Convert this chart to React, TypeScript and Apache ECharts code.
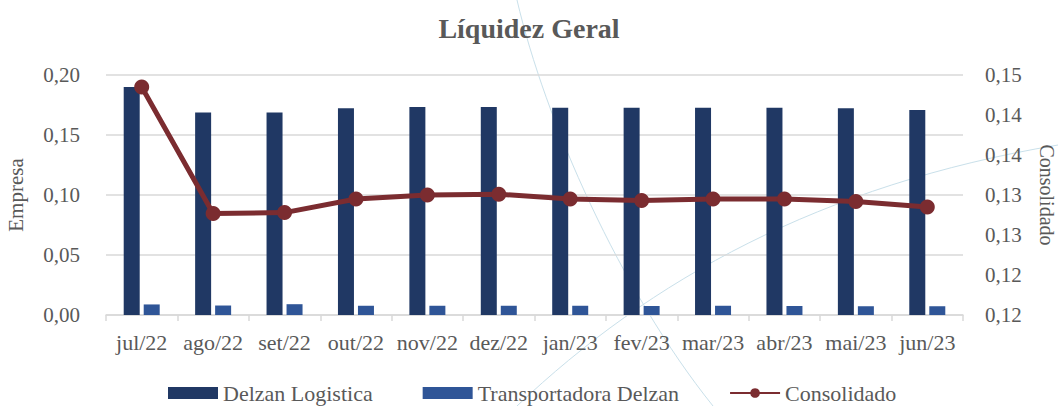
import React, { useEffect, useRef } from "react";
import * as echarts from "echarts";

const categories = ["jul/22", "ago/22", "set/22", "out/22", "nov/22", "dez/22", "jan/23", "fev/23", "mar/23", "abr/23", "mai/23", "jun/23"];
const delzanLogistica = [0.190, 0.1688, 0.1688, 0.1722, 0.1733, 0.1733, 0.1728, 0.1728, 0.1728, 0.1728, 0.1722, 0.1708];
const transportadora = [0.0088, 0.0079, 0.0090, 0.0077, 0.0077, 0.0077, 0.0077, 0.0075, 0.0077, 0.0075, 0.0073, 0.0073];
const consolidado = [0.1485, 0.1327, 0.1328, 0.1345, 0.1350, 0.1351, 0.1345, 0.1343, 0.1345, 0.1345, 0.1342, 0.1335];
const rightTickLabels = ["0,12", "0,12", "0,13", "0,13", "0,14", "0,14", "0,15"];

const FONT = "'Liberation Serif', 'Times New Roman', serif";
const TEXT = "#595959";

export default function App() {
  const ref = useRef<HTMLDivElement>(null);
  useEffect(() => {
    document.body.style.margin = "0";
    const chart = echarts.init(ref.current!, null, { renderer: "svg" });
    chart.setOption({
      animation: false,
      backgroundColor: "#ffffff",
      textStyle: { fontFamily: FONT, color: TEXT },
      title: {
        text: "Líquidez Geral",
        left: "center",
        top: 9,
        textStyle: { fontFamily: FONT, fontSize: 28, fontWeight: "bold", color: TEXT },
      },
      graphic: [
        {
          type: "bezierCurve",
          z: -10,
          silent: true,
          shape: { x1: 517, y1: 0, cpx1: 545, cpy1: 120, cpx2: 620, cpy2: 290, x2: 713, y2: 406 },
          style: { stroke: "#C9E0EA", lineWidth: 1, fill: "none" },
        },
        {
          type: "bezierCurve",
          z: -10,
          silent: true,
          shape: { x1: 517, y1: 406, cpx1: 650, cpy1: 280, cpx2: 820, cpy2: 185, x2: 1058, y2: 145 },
          style: { stroke: "#C9E0EA", lineWidth: 1, fill: "none" },
        },
      ],
      legend: {
        left: 168,
        top: 382,
        padding: 0,
        itemGap: 50,
        itemWidth: 50,
        itemHeight: 12,
        textStyle: { fontFamily: FONT, fontSize: 22, color: TEXT },
        data: [
          { name: "Delzan Logistica", icon: "rect" },
          { name: "Transportadora Delzan", icon: "rect" },
          { name: "Consolidado" },
        ],
      },
      grid: { left: 106, right: 95, top: 75, bottom: 91, containLabel: false, outerBoundsMode: "none" },
      xAxis: {
        type: "category",
        data: categories,
        axisLine: { lineStyle: { color: "#D9D9D9", width: 1.5 } },
        axisTick: { show: true, length: 6, lineStyle: { color: "#D9D9D9", width: 1.5 } },
        axisLabel: { fontFamily: FONT, fontSize: 22, color: TEXT, margin: 16, interval: 0 },
      },
      yAxis: [
        {
          type: "value",
          min: 0,
          max: 0.2,
          interval: 0.05,
          name: "Empresa",
          nameLocation: "middle",
          nameGap: 80,
          nameTextStyle: { fontFamily: FONT, fontSize: 21, color: TEXT },
          axisLine: { show: false },
          axisTick: { show: false },
          splitLine: { lineStyle: { color: "#D9D9D9", width: 1.5 } },
          axisLabel: {
            fontFamily: FONT,
            fontSize: 21,
            color: TEXT,
            margin: 26,
            formatter: (v: number) => v.toFixed(2).replace(".", ","),
          },
        },
        {
          type: "value",
          min: 0.12,
          max: 0.15,
          interval: 0.005,
          name: "Consolidado",
          nameLocation: "middle",
          nameGap: 74,
          nameRotate: -90,
          nameTextStyle: { fontFamily: FONT, fontSize: 20, color: TEXT },
          axisLine: { show: false },
          axisTick: { show: false },
          splitLine: { show: false },
          axisLabel: {
            fontFamily: FONT,
            fontSize: 21,
            color: TEXT,
            margin: 22,
            formatter: (v: number) => rightTickLabels[Math.round((v - 0.12) / 0.005)] ?? "",
          },
        },
      ],
      series: [
        {
          name: "Delzan Logistica",
          type: "bar",
          yAxisIndex: 0,
          data: delzanLogistica,
          barWidth: 16,
          barGap: "25%",
          itemStyle: { color: "#203864" },
        },
        {
          name: "Transportadora Delzan",
          type: "bar",
          yAxisIndex: 0,
          data: transportadora,
          barWidth: 16,
          barGap: "25%",
          itemStyle: { color: "#2F5597" },
        },
        {
          name: "Consolidado",
          type: "line",
          yAxisIndex: 1,
          data: consolidado,
          symbol: "circle",
          symbolSize: 15,
          lineStyle: { color: "#7B2C30", width: 5 },
          itemStyle: { color: "#7B2C30" },
          z: 5,
        },
      ],
    });
    return () => chart.dispose();
  }, []);
  return <div ref={ref} style={{ width: 1058, height: 406 }} />;
}
